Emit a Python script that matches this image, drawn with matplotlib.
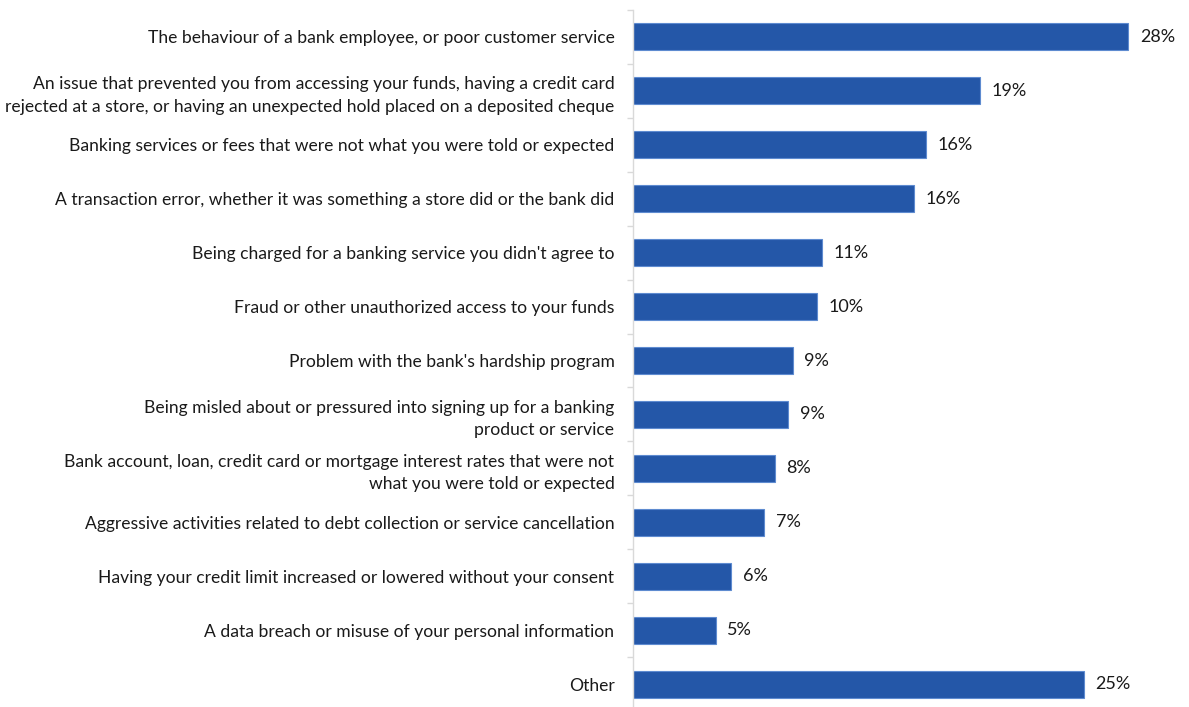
import matplotlib
matplotlib.use("Agg")
import matplotlib.pyplot as plt
import numpy as np

categories = [
    "The behaviour of a bank employee, or poor customer service",
    "An issue that prevented you from accessing your funds, having a credit card\nrejected at a store, or having an unexpected hold placed on a deposited cheque",
    "Banking services or fees that were not what you were told or expected",
    "A transaction error, whether it was something a store did or the bank did",
    "Being charged for a banking service you didn't agree to",
    "Fraud or other unauthorized access to your funds",
    "Problem with the bank's hardship program",
    "Being misled about or pressured into signing up for a banking\nproduct or service",
    "Bank account, loan, credit card or mortgage interest rates that were not\nwhat you were told or expected",
    "Aggressive activities related to debt collection or service cancellation",
    "Having your credit limit increased or lowered without your consent",
    "A data breach or misuse of your personal information",
    "Other",
]
values = [27.7, 19.4, 16.4, 15.7, 10.6, 10.3, 8.95, 8.7, 7.96, 7.35, 5.52, 4.65, 25.2]

plt.rcParams['font.family'] = ['Lato', 'DejaVu Sans']
text_color = '#1a1a1a'

fig = plt.figure(figsize=(11.89, 7.07), dpi=100)
ax = fig.add_axes([632.5 / 1189, -4 / 707, 537 / 1189, 701 / 707])

y = np.arange(len(categories))
ax.barh(y, values, height=0.5, color='#2457A8', edgecolor='#5E8BD0', linewidth=0.8)

for yi, v in zip(y, values):
    ax.text(v + 0.65, yi, f"{v:.0f}%", va='center', ha='left', fontsize=13, color=text_color)

ax.set_xlim(0, 30)
ax.set_ylim(len(categories) - 0.5, -0.5)
ax.set_yticks(y)
ax.set_yticklabels(categories, fontsize=12.6, color=text_color, linespacing=1.5)
ax.tick_params(axis='y', which='major', length=0, pad=13)
ax.set_yticks(np.arange(-0.5, len(categories), 1.0), minor=True)
ax.tick_params(axis='y', which='minor', length=4.3, color='#d9d9d9', width=1)
ax.set_xticks([])
for s in ['top', 'right', 'bottom']:
    ax.spines[s].set_visible(False)
ax.spines['left'].set_color('#d9d9d9')
ax.spines['left'].set_linewidth(1)
for lbl in ax.get_yticklabels():
    lbl.set_multialignment('right')

fig.savefig("out.png", dpi=100)
